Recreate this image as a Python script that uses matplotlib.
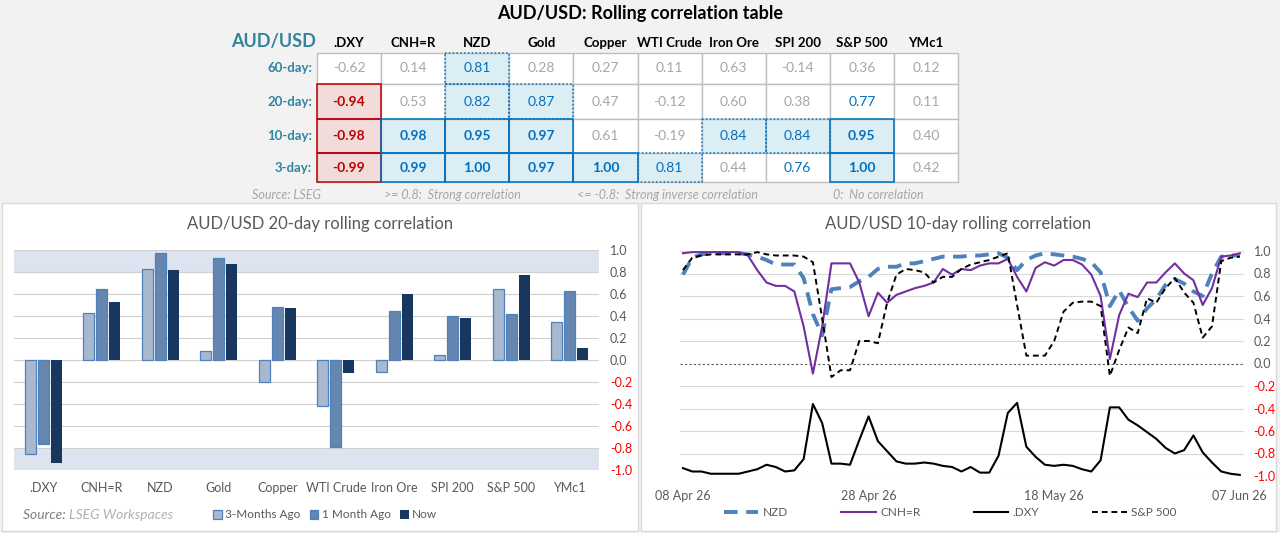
import matplotlib.pyplot as plt
from matplotlib.patches import Rectangle
import numpy as np
import pandas as pd

plt.rcParams['font.family'] = ['Lato', 'DejaVu Sans']

W, H = 1280, 533

# correlation table
assets = [".DXY", "CNH=R", "NZD", "Gold", "Copper", "WTI Crude", "Iron Ore", "SPI 200", "S&P 500", "YMc1"]
windows = ["60-day:", "20-day:", "10-day:", "3-day:"]
corr_60 = [-0.62, 0.14, 0.81, 0.28, 0.27, 0.11, 0.63, -0.14, 0.36, 0.12]
corr_20 = [-0.94, 0.53, 0.82, 0.87, 0.47, -0.12, 0.60, 0.38, 0.77, 0.11]
corr_10 = [-0.98, 0.98, 0.95, 0.97, 0.61, -0.19, 0.84, 0.84, 0.95, 0.40]
corr_3 = [-0.99, 0.99, 1.00, 0.97, 1.00, 0.81, 0.44, 0.76, 1.00, 0.42]

# 20-day bar chart
bar_3m = [-0.85, 0.43, 0.83, 0.08, -0.20, -0.42, -0.11, 0.05, 0.65, 0.35]
bar_1m = [-0.76, 0.65, 0.97, 0.93, 0.48, -0.79, 0.45, 0.40, 0.42, 0.63]
bar_now = corr_20
bar_labels = ["3-Months Ago", "1 Month Ago", "Now"]

# 10-day rolling lines
dates = pd.date_range("2026-04-08", "2026-06-07", freq="D")
nzd = [0.79, 0.94, 0.97, 0.98, 0.98, 0.98, 0.98, 0.97, 0.95, 0.92, 0.88, 0.88, 0.88, 0.76, 0.44,
       0.25, 0.66, 0.67, 0.68, 0.73, 0.77, 0.84, 0.86, 0.86, 0.89, 0.89, 0.91, 0.93, 0.95, 0.95, 0.95,
       0.96, 0.96, 0.97, 0.98, 0.94, 0.83, 0.92, 0.96, 0.98, 0.97, 0.96, 0.95, 0.93, 0.90, 0.81,
       0.51, 0.65, 0.50, 0.38, 0.49, 0.57, 0.70, 0.75, 0.71, 0.64, 0.60, 0.80, 0.95, 0.96, 0.96]
cnh = [0.98, 0.99, 0.99, 0.99, 0.99, 0.99, 0.99, 0.96, 0.83, 0.72, 0.69, 0.69, 0.64, 0.33, -0.09,
       0.33, 0.89, 0.89, 0.89, 0.72, 0.42, 0.63, 0.54, 0.61, 0.64, 0.67, 0.69, 0.72, 0.84, 0.79, 0.84,
       0.83, 0.87, 0.89, 0.89, 0.93, 0.77, 0.64, 0.85, 0.90, 0.87, 0.92, 0.92, 0.88, 0.79, 0.60,
       0.04, 0.43, 0.62, 0.59, 0.72, 0.72, 0.81, 0.89, 0.80, 0.74, 0.52, 0.67, 0.95, 0.96, 0.98]
dxy = [-0.93, -0.96, -0.96, -0.98, -0.98, -0.98, -0.98, -0.96, -0.94, -0.90, -0.92, -0.96, -0.95, -0.85, -0.36,
       -0.53, -0.89, -0.89, -0.90, -0.68, -0.47, -0.69, -0.78, -0.87, -0.89, -0.89, -0.88, -0.89, -0.91, -0.92, -0.96,
       -0.92, -0.97, -0.97, -0.82, -0.44, -0.35, -0.74, -0.83, -0.90, -0.91, -0.90, -0.91, -0.94, -0.96, -0.86,
       -0.39, -0.39, -0.50, -0.55, -0.61, -0.67, -0.75, -0.80, -0.77, -0.64, -0.79, -0.88, -0.96, -0.98, -0.99]
spx = [0.83, 0.94, 0.96, 0.97, 0.97, 0.97, 0.97, 0.97, 0.99, 0.97, 0.96, 0.96, 0.96, 0.95, 0.90,
       0.40, -0.12, -0.06, -0.06, 0.20, 0.20, 0.18, 0.54, 0.79, 0.84, 0.83, 0.81, 0.72, 0.77, 0.77, 0.84,
       0.88, 0.90, 0.92, 0.95, 0.98, 0.52, 0.07, 0.07, 0.07, 0.20, 0.46, 0.54, 0.55, 0.55, 0.51,
       -0.11, 0.12, 0.32, 0.27, 0.58, 0.54, 0.67, 0.76, 0.63, 0.54, 0.23, 0.33, 0.91, 0.94, 0.95]

GRAY_TXT = "#A6A6A6"
BLUE = "#0070C0"
RED = "#C00000"
TEAL = "#31849B"
DARK = "#595959"


def axes_rect(x0, y0, x1, y1):
    # pixel box (top-left origin) -> figure fraction
    return [x0 / W, 1 - y1 / H, (x1 - x0) / W, (y1 - y0) / H]


def cell_style(v):
    # fill, text colour, weight, border colour, border style
    if v >= 0.9:
        return "#DAEEF3", BLUE, "bold", BLUE, "-"
    if v >= 0.8:
        return "#DAEEF3", BLUE, "normal", BLUE, (0, (1, 1.5))
    if v >= 0.7:
        return "white", BLUE, "normal", None, None
    if v <= -0.9:
        return "#F2DCDB", RED, "bold", RED, "-"
    return "white", GRAY_TXT, "normal", None, None


fig = plt.figure(figsize=(W / 100, H / 100), dpi=100)
fig.patch.set_facecolor("#F2F2F2")

bg = fig.add_axes([0, 0, 1, 1])
bg.set_xlim(0, W)
bg.set_ylim(H, 0)
bg.axis("off")

# ---- table ----
bg.text(640, 14, "AUD/USD: Rolling correlation table", ha="center", va="center",
        fontsize=13, fontweight="bold", color="black")
bg.text(274, 42, "AUD/USD", ha="center", va="center", fontsize=13, fontweight="bold", color=TEAL)

col_x0 = 317
col_w = 64.1
row_edges = [53, 84, 119, 153, 182]
table_rows = [corr_60, corr_20, corr_10, corr_3]

for j, name in enumerate(assets):
    bg.text(col_x0 + (j + 0.5) * col_w, 43, name, ha="center", va="center",
            fontsize=9.5, fontweight="bold", color="black")

outlines = []
for i, vals in enumerate(table_rows):
    y0, y1 = row_edges[i], row_edges[i + 1]
    bg.text(312, (y0 + y1) / 2, windows[i], ha="right", va="center",
            fontsize=9.5, fontweight="bold", color=TEAL)
    for j, v in enumerate(vals):
        x0 = col_x0 + j * col_w
        fill, tc, fw, bc, bs = cell_style(v)
        bg.add_patch(Rectangle((x0, y0), col_w, y1 - y0, facecolor=fill,
                               edgecolor="#BFBFBF", lw=1, zorder=1))
        bg.text(x0 + col_w / 2, (y0 + y1) / 2, f"{v:.2f}", ha="center", va="center",
                fontsize=10, fontweight=fw, color=tc, zorder=4)
        if bc is not None:
            outlines.append((x0, y0, y1, bc, bs))

for x0, y0, y1, bc, bs in sorted(outlines, key=lambda o: o[4] == "-"):
    bg.add_patch(Rectangle((x0, y0), col_w, y1 - y0, facecolor="none", edgecolor=bc,
                           lw=1.1, linestyle=bs, zorder=3 if bs != "-" else 3.5))

foot_y = 195
bg.text(287, foot_y, "Source: LSEG", ha="center", va="center", fontsize=9, style="italic", color=GRAY_TXT)
bg.text(452, foot_y, ">= 0.8:  Strong correlation", ha="center", va="center", fontsize=9, style="italic", color=GRAY_TXT)
bg.text(667, foot_y, "<= -0.8:  Strong inverse correlation", ha="center", va="center", fontsize=9, style="italic", color=GRAY_TXT)
bg.text(878, foot_y, "0:  No correlation", ha="center", va="center", fontsize=9, style="italic", color=GRAY_TXT)

# ---- panels ----
bg.add_patch(Rectangle((2, 203), 636, 328, facecolor="white", edgecolor="#D9D9D9", lw=1, zorder=0))
bg.add_patch(Rectangle((641, 203), 635, 328, facecolor="white", edgecolor="#D9D9D9", lw=1, zorder=0))
bg.text(320, 224, "AUD/USD 20-day rolling correlation", ha="center", va="center", fontsize=12, color=DARK)
bg.text(958, 224, "AUD/USD 10-day rolling correlation", ha="center", va="center", fontsize=12, color=DARK)

yticks = np.round(np.arange(-1.0, 1.01, 0.2), 1)
yticks[np.isclose(yticks, 0)] = 0.0


def style_yaxis(ax, pad):
    ax.set_ylim(-1, 1)
    ax.set_yticks(yticks)
    ax.set_yticklabels([f"{abs(t):.1f}" if abs(t) < 1e-9 else f"{t:.1f}" for t in yticks])
    ax.yaxis.tick_right()
    ax.tick_params(axis="y", length=0, pad=pad, labelsize=9, labelcolor=DARK)
    for lab, t in zip(ax.get_yticklabels(), yticks):
        if t < -1e-9:
            lab.set_color("#FF0000")
    for s in ax.spines.values():
        s.set_visible(False)
    ax.set_facecolor("none")


# ---- bar chart ----
ax1 = fig.add_axes(axes_rect(14, 250, 599, 470))
x = np.arange(len(assets))
ax1.axhspan(0.8, 1.0, color="#DDE4EF", zorder=0, lw=0)
ax1.axhspan(-1.0, -0.8, color="#DDE4EF", zorder=0, lw=0)
for t in yticks:
    ax1.axhline(t, color="#D0D0D0", lw=0.8, zorder=1)
b1 = ax1.bar(x - 0.22, bar_3m, 0.19, color="#A8B9CF", edgecolor="#4F81BD", lw=0.9, zorder=3)
b2 = ax1.bar(x, bar_1m, 0.19, color="#6586AE", edgecolor="#4F81BD", lw=0.9, zorder=3)
b3 = ax1.bar(x + 0.22, bar_now, 0.19, color="#17375E", lw=0, zorder=3)
ax1.set_xlim(-0.5, len(assets) - 0.5)
ax1.set_xticks(x)
ax1.set_xticklabels(assets)
ax1.tick_params(axis="x", length=0, pad=9, labelsize=9, labelcolor=DARK)
style_yaxis(ax1, 8)
ax1.legend([b1, b2, b3], bar_labels, loc="center left", ncol=3, frameon=False,
           bbox_to_anchor=(213 / W, 1 - 515 / H), bbox_transform=fig.transFigure,
           fontsize=8.5, handlelength=0.75, handleheight=0.75, handletextpad=0.3,
           columnspacing=0.75, labelcolor=DARK, borderaxespad=0, borderpad=0)

src = bg.text(23, 515, "Source: ", ha="left", va="center", fontsize=10, style="italic", color="#7F7F7F")
bg.annotate("LSEG Workspaces", xy=(1, 0.5), xycoords=src, ha="left", va="center",
            fontsize=10, style="italic", color="#B0B0B0")

# ---- line chart ----
ax2 = fig.add_axes(axes_rect(680, 251, 1244, 476))
idx = np.arange(len(dates))
for t in yticks:
    if abs(t) < 1e-9:
        ax2.axhline(0, color="#595959", lw=0.8, linestyle=(0, (2, 2)), zorder=1)
    else:
        ax2.axhline(t, color="#D9D9D9", lw=0.8, zorder=1)
ax2.plot(idx, nzd, color="#4F81BD", lw=2.8, linestyle=(0, (3.5, 2.2)), label="NZD", zorder=3)
ax2.plot(idx, cnh, color="#7030A0", lw=1.5, label="CNH=R", zorder=4)
ax2.plot(idx, dxy, color="black", lw=1.5, label=".DXY", zorder=4)
ax2.plot(idx, spx, color="black", lw=1.4, linestyle=(0, (3, 2)), label="S&P 500", zorder=5)
ax2.set_xlim(-0.32, 60.45)
tick_idx = [0, 20, 40, 60]
ax2.set_xticks(tick_idx)
ax2.set_xticklabels([dates[i].strftime("%d %b %y") for i in tick_idx])
ax2.tick_params(axis="x", length=0, pad=10, labelsize=9, labelcolor=DARK)
style_yaxis(ax2, 7)
ax2.legend(loc="center left", ncol=4, frameon=False,
           bbox_to_anchor=(724 / W, 1 - 513 / H), bbox_transform=fig.transFigure,
           fontsize=8.5, handlelength=2.9, handletextpad=0.4, columnspacing=4.5,
           labelcolor=DARK, borderaxespad=0, borderpad=0)

fig.savefig("out.png", dpi=100, facecolor=fig.get_facecolor())
